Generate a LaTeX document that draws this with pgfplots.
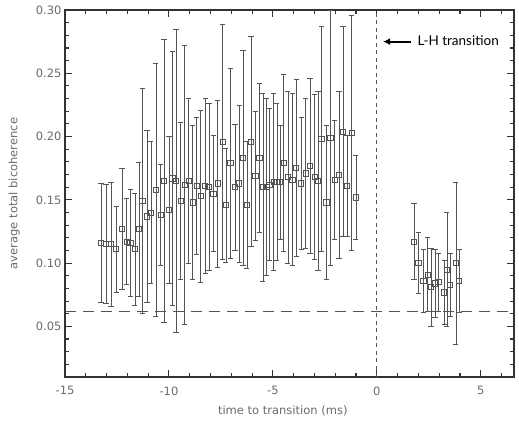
\documentclass[border=0pt]{standalone}
\usepackage{pgfplots}
\pgfplotsset{compat=1.18}
\usepackage{pgfplotstable}
\usetikzlibrary{arrows.meta}
\usepackage{fontspec}
\setmainfont{DejaVu Sans}
\newfontfamily\latofont{Lato}
\definecolor{inkc}{gray}{0.33}
\definecolor{framec}{gray}{0.2}
\definecolor{txtc}{gray}{0.42}

\pgfplotstableread{
x y e
-13.27 0.116 0.047
-13.03 0.115 0.047
-12.79 0.115 0.049
-12.54 0.111 0.034
-12.26 0.127 0.048
-12.04 0.117 0.034
-11.86 0.116 0.042
-11.64 0.111 0.044
-11.45 0.127 0.053
-11.28 0.149 0.089
-11.06 0.137 0.068
-10.87 0.140 0.056
-10.63 0.158 0.100
-10.40 0.138 0.040
-10.24 0.165 0.112
-10.00 0.142 0.058
-9.84 0.167 0.100
-9.66 0.165 0.120
-9.44 0.149 0.062
-9.25 0.162 0.110
-9.06 0.165 0.065
-8.87 0.148 0.061
-8.67 0.161 0.054
-8.47 0.153 0.068
-8.26 0.161 0.069
-8.07 0.160 0.066
-7.87 0.155 0.046
-7.66 0.163 0.066
-7.42 0.196 0.093
-7.26 0.146 0.045
-7.05 0.179 0.075
-6.82 0.160 0.050
-6.62 0.163 0.062
-6.44 0.183 0.085
-6.25 0.146 0.050
-6.05 0.196 0.083
-5.85 0.169 0.051
-5.65 0.183 0.059
-5.48 0.160 0.074
-5.31 0.160 0.070
-5.17 0.162 0.060
-4.97 0.164 0.070
-4.81 0.164 0.062
-4.65 0.164 0.045
-4.49 0.179 0.070
-4.28 0.168 0.068
-4.07 0.166 0.068
-3.88 0.175 0.070
-3.64 0.163 0.052
-3.43 0.171 0.059
-3.21 0.177 0.069
-3.00 0.168 0.065
-2.83 0.165 0.071
-2.67 0.198 0.089
-2.43 0.148 0.061
-2.24 0.199 0.101
-2.03 0.166 0.047
-1.82 0.170 0.066
-1.63 0.204 0.083
-1.43 0.161 0.040
-1.22 0.203 0.093
-1.01 0.152 0.033
}\pretable

\pgfplotstableread{
x y e
1.79 0.117 0.030
2.00 0.100 0.024
2.24 0.086 0.025
2.45 0.091 0.029
2.61 0.081 0.031
2.80 0.084 0.027
2.96 0.085 0.023
3.24 0.077 0.025
3.37 0.095 0.045
3.53 0.083 0.025
3.80 0.100 0.064
3.96 0.086 0.025
}\posttable

\begin{document}
\begin{tikzpicture}
\path (-65pt,-46pt) rectangle (454pt,377pt);
\begin{axis}[
  at={(0,0)}, anchor=south west,
  scale only axis, width=449pt, height=367pt,
  xmin=-15, xmax=6.6, ymin=0.01, ymax=0.30,
  xtick={-15,-10,-5,0,5},
  minor xtick={-14,-13,-12,-11,-9,-8,-7,-6,-4,-3,-2,-1,1,2,3,4,6},
  ytick={0.05,0.10,0.15,0.20,0.25,0.30},
  minor ytick={0.02,0.03,0.04,0.06,0.07,0.08,0.09,0.11,0.12,0.13,0.14,0.16,0.17,0.18,0.19,0.21,0.22,0.23,0.24,0.26,0.27,0.28,0.29},
  major tick length=7pt, minor tick length=4pt,
  axis line style={framec, line width=1.3pt},
  xtick style={framec, line width=1.1pt},
  ytick style={framec, line width=1.1pt},
  yticklabel={\pgfmathprintnumber[fixed, fixed zerofill, precision=2, assume math mode=true]{\tick}},
  xticklabel={\pgfmathprintnumber[assume math mode=true]{\tick}},
  tick label style={font=\fontsize{11.5}{13}\selectfont, text=txtc},
  xticklabel style={yshift=-6pt},
  xlabel={time to transition (ms)},
  ylabel={average total bicoherence},
  every axis x label/.style={at={(axis description cs:0.485,-0.092)}, anchor=center, font=\fontsize{11.5}{13}\selectfont, text=txtc},
  every axis y label/.style={at={(axis description cs:-0.113,0.5)}, anchor=center, rotate=90, font=\fontsize{11.5}{13}\selectfont, text=txtc},
]
\addplot[inkc, line width=0.8pt, dash pattern=on 11pt off 7pt] coordinates {(-15,0.062) (6.6,0.062)};
\addplot[inkc, line width=0.8pt, dash pattern=on 4pt off 3.5pt] coordinates {(0,0.01) (0,0.30)};

\addplot[only marks, mark=square, mark size=2.6pt, inkc, mark options={line width=0.6pt},
  error bars/.cd, y dir=both, y explicit,
  error bar style={line width=0.55pt, inkc},
  error mark options={rotate=90, mark size=2.6pt, line width=0.6pt, inkc}]
  table[x=x, y=y, y error=e] {\pretable};
\addplot[only marks, mark=square, mark size=2.6pt, inkc, mark options={line width=0.6pt},
  error bars/.cd, y dir=both, y explicit,
  error bar style={line width=0.55pt, inkc},
  error mark options={rotate=90, mark size=2.6pt, line width=0.6pt, inkc}]
  table[x=x, y=y, y error=e] {\posttable};

\draw[-{Latex[length=7pt,width=7pt]}, line width=1.8pt, black] (axis cs:1.63,0.275) -- (axis cs:0.30,0.275);
\node[anchor=west, font=\latofont\fontsize{13.5}{15}\selectfont, inner sep=0pt] at (axis cs:1.95,0.2758) {L-H transition};
\end{axis}
\end{tikzpicture}
\end{document}
